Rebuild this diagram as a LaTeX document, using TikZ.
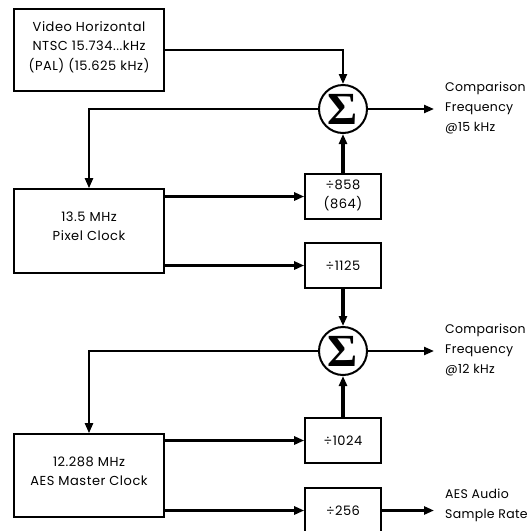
\documentclass[tikz,border=0pt]{standalone}
\usepackage{fontspec}
\setmainfont{Poppins}[LetterSpace=4]
\newfontfamily\labfont{Poppins}[LetterSpace=2.5]
\newfontfamily\sigfont{Liberation Serif}
\usetikzlibrary{arrows.meta}
\begin{document}
\begin{tikzpicture}[x=1pt,y=-1pt,
  box/.style={draw,line width=1.6pt,inner sep=0pt,font=\fontsize{13}{19.5}\selectfont},
  txt/.style={align=center,font=\fontsize{13}{19.5}\selectfont,inner sep=0pt},
  lab/.style={align=left,anchor=west,font=\fontsize{12.5}{20}\labfont,inner sep=0pt},
  sum/.style={circle,draw,line width=2pt,minimum size=48pt,inner sep=0pt,font=\fontsize{46}{46}\sigfont\bfseries},
  thinl/.style={line width=2.2pt},
  heavy/.style={line width=3.4pt},
  arr/.style={-{Triangle[length=10pt,width=8pt]}}]
\useasboundingbox (0,0) rectangle (531,531);
% left boxes
\node[box,minimum width=150pt,minimum height=82pt] (vid) at (89,50) {};
\node[txt] (vidt) at (89,47) {Video Horizontal\\NTSC 15.734...kHz\\(PAL) (15.625 kHz)};
\node[box,minimum width=150pt,minimum height=84pt] (px) at (89,231) {};
\node[txt] (pxt) at (89,226.5) {13.5 MHz\\Pixel Clock};
\node[box,minimum width=150pt,minimum height=83pt] (aes) at (89,475.5) {};
\node[txt] (aest) at (89,471.5) {12.288 MHz\\AES Master Clock};
% summers
\node[sum] (s1) at (343,109) {Σ};
\node[sum] (s2) at (343,351) {Σ};
% dividers
\node[box,minimum width=76pt,minimum height=45pt] (d858) at (343,196.5) {};
\node[txt] (d858t) at (343,195.5) {÷858\\(864)};
\node[box,minimum width=76pt,minimum height=45pt] (d1125) at (343,265.5) {÷1125};
\node[box,minimum width=76pt,minimum height=45pt] (d1024) at (343,440.5) {÷1024};
\node[box,minimum width=76pt,minimum height=45pt] (d256) at (343,510.5) {÷256};
% labels
\node[lab] (c1) at (445,108) {Comparison\\Frequency\\@15 kHz};
\node[lab] (c2) at (445,350) {Comparison\\Frequency\\@12 kHz};
\node[lab] (c3) at (445,505) {AES Audio\\Sample Rate};
\coordinate (o1) at (434,109);
\coordinate (o2) at (434,351);
\coordinate (o3) at (434,510.5);
% connectors
\draw[thinl,arr] (vid.east) -| (s1.north);
\draw[thinl,arr] (s1.west) -| (px.north);
\draw[thinl,arr] (s1.east) -- (o1);
\draw[heavy,arr] (px.east |- d858) -- (d858.west);
\draw[heavy,arr] (px.east |- d1125) -- (d1125.west);
\draw[heavy,arr] (d858.north) -- (s1.south);
\draw[heavy,arr] (d1125.south) -- (s2.north);
\draw[thinl,arr] (s2.west) -| (aes.north);
\draw[thinl,arr] (s2.east) -- (o2);
\draw[heavy,arr] (aes.east |- d1024) -- (d1024.west);
\draw[heavy,arr] (aes.east |- d256) -- (d256.west);
\draw[heavy,arr] (d1024.north) -- (s2.south);
\draw[heavy,arr] (d256.east) -- (o3);
\end{tikzpicture}
\end{document}
